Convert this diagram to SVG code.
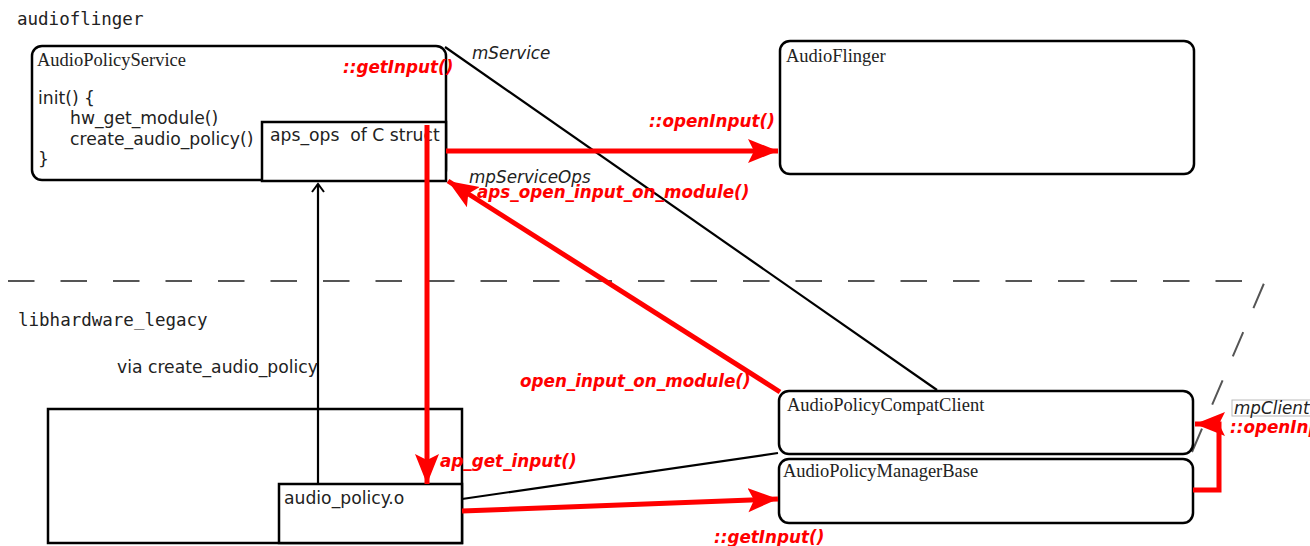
<svg xmlns="http://www.w3.org/2000/svg" width="1310" height="546" viewBox="0 0 1310 546">
<style>
.box{fill:#fff;stroke:#000;stroke-width:2.5}
.ttl{font-family:"Liberation Serif","DejaVu Serif",serif;font-size:18.5px;fill:#222}
.sans{font-family:"DejaVu Sans","Liberation Sans",sans-serif;font-size:17.2px;fill:#222}
.it{font-family:"DejaVu Sans","Liberation Sans",sans-serif;font-size:16.8px;font-style:italic;fill:#222}
.mono{font-family:"DejaVu Sans Mono","Liberation Mono",monospace;font-size:17.5px;fill:#222}
.red{font-family:"DejaVu Sans","Liberation Sans",sans-serif;font-size:16.8px;font-weight:bold;font-style:italic;fill:#f00}
.rline{fill:none;stroke:#f00;stroke-width:5}
.bline{fill:none;stroke:#000;stroke-width:2.2}
.dash{fill:none;stroke:#555;stroke-width:2;stroke-dasharray:26.5 26}
</style>
<defs>
<marker id="ra" markerUnits="userSpaceOnUse" markerWidth="34" markerHeight="26" refX="30" refY="12" orient="auto">
<path d="M0,0 L30,12 L0,24 L6,12 z" fill="#f00"/>
</marker>
<marker id="ba" markerUnits="userSpaceOnUse" markerWidth="14" markerHeight="14" refX="10" refY="7" orient="auto">
<path d="M2,1 L10,7 L2,13" fill="none" stroke="#000" stroke-width="2"/>
</marker>
</defs>

<text class="mono" x="17" y="25">audioflinger</text>
<text class="mono" x="18" y="326">libhardware_legacy</text>

<path class="dash" d="M8,281 L1265,281 L1192,452"/>

<g id="AudioPolicyService">
<rect class="box" x="32" y="46" width="414" height="134" rx="10"/>
<text class="ttl" x="37" y="66">AudioPolicyService</text>
<text class="sans" x="38" y="104">init() {</text>
<text class="sans" x="70" y="124">hw_get_module()</text>
<text class="sans" x="70" y="145">create_audio_policy()</text>
<text class="sans" x="38" y="165">}</text>
</g>
<g id="aps_ops">
<rect class="box" x="262" y="122" width="184" height="59"/>
<text class="sans" x="270" y="141" xml:space="preserve">aps_ops  of C struct</text>
</g>
<g id="AudioFlinger">
<rect class="box" x="780" y="41" width="414" height="133" rx="10"/>
<text class="ttl" x="786" y="62">AudioFlinger</text>
</g>
<g id="libbox">
<rect class="box" x="48" y="409" width="414" height="134"/>
</g>
<g id="audio_policy_o">
<rect class="box" x="279" y="484" width="183" height="59"/>
<text class="sans" x="284" y="504">audio_policy.o</text>
</g>
<g id="AudioPolicyCompatClient">
<rect class="box" x="779" y="391" width="414" height="63" rx="10"/>
<text class="ttl" x="787" y="411">AudioPolicyCompatClient</text>
</g>
<g id="AudioPolicyManagerBase">
<rect class="box" x="779" y="459" width="414" height="64" rx="10"/>
<text class="ttl" x="783" y="477">AudioPolicyManagerBase</text>
</g>

<g id="connectors">
<line class="bline" x1="445" y1="47" x2="937" y2="390"/>
<line class="bline" x1="318" y1="484" x2="318" y2="184" marker-end="url(#ba)"/>
<line class="bline" x1="462" y1="499" x2="778" y2="453"/>
<line class="rline" x1="446" y1="151" x2="778" y2="151" marker-end="url(#ra)"/>
<line class="rline" x1="427" y1="125" x2="427" y2="484" marker-end="url(#ra)"/>
<line class="rline" x1="780" y1="392" x2="448" y2="181" marker-end="url(#ra)"/>
<line class="rline" x1="462" y1="511" x2="778" y2="499" marker-end="url(#ra)"/>
<polyline class="rline" points="1193,490 1219,490 1219,424 1195,424" marker-end="url(#ra)"/>
</g>

<text class="red" x="343" y="73">::getInput()</text>
<text class="it" x="472" y="59">mService</text>
<text class="red" x="649" y="127">::openInput()</text>
<text class="it" x="469" y="183">mpServiceOps</text>
<text class="red" x="477" y="198">aps_open_input_on_module()</text>
<text class="sans" x="117" y="373">via create_audio_policy</text>
<text class="red" x="520" y="387">open_input_on_module()</text>
<text class="red" x="440" y="467">ap_get_input()</text>
<text class="red" x="714" y="543">::getInput()</text>
<rect x="1232" y="400" width="90" height="16" fill="#fff" stroke="#bbb" stroke-width="1"/>
<text class="it" x="1234" y="414">mpClient</text>
<text class="red" x="1230" y="433">::openInput()</text>
</svg>
